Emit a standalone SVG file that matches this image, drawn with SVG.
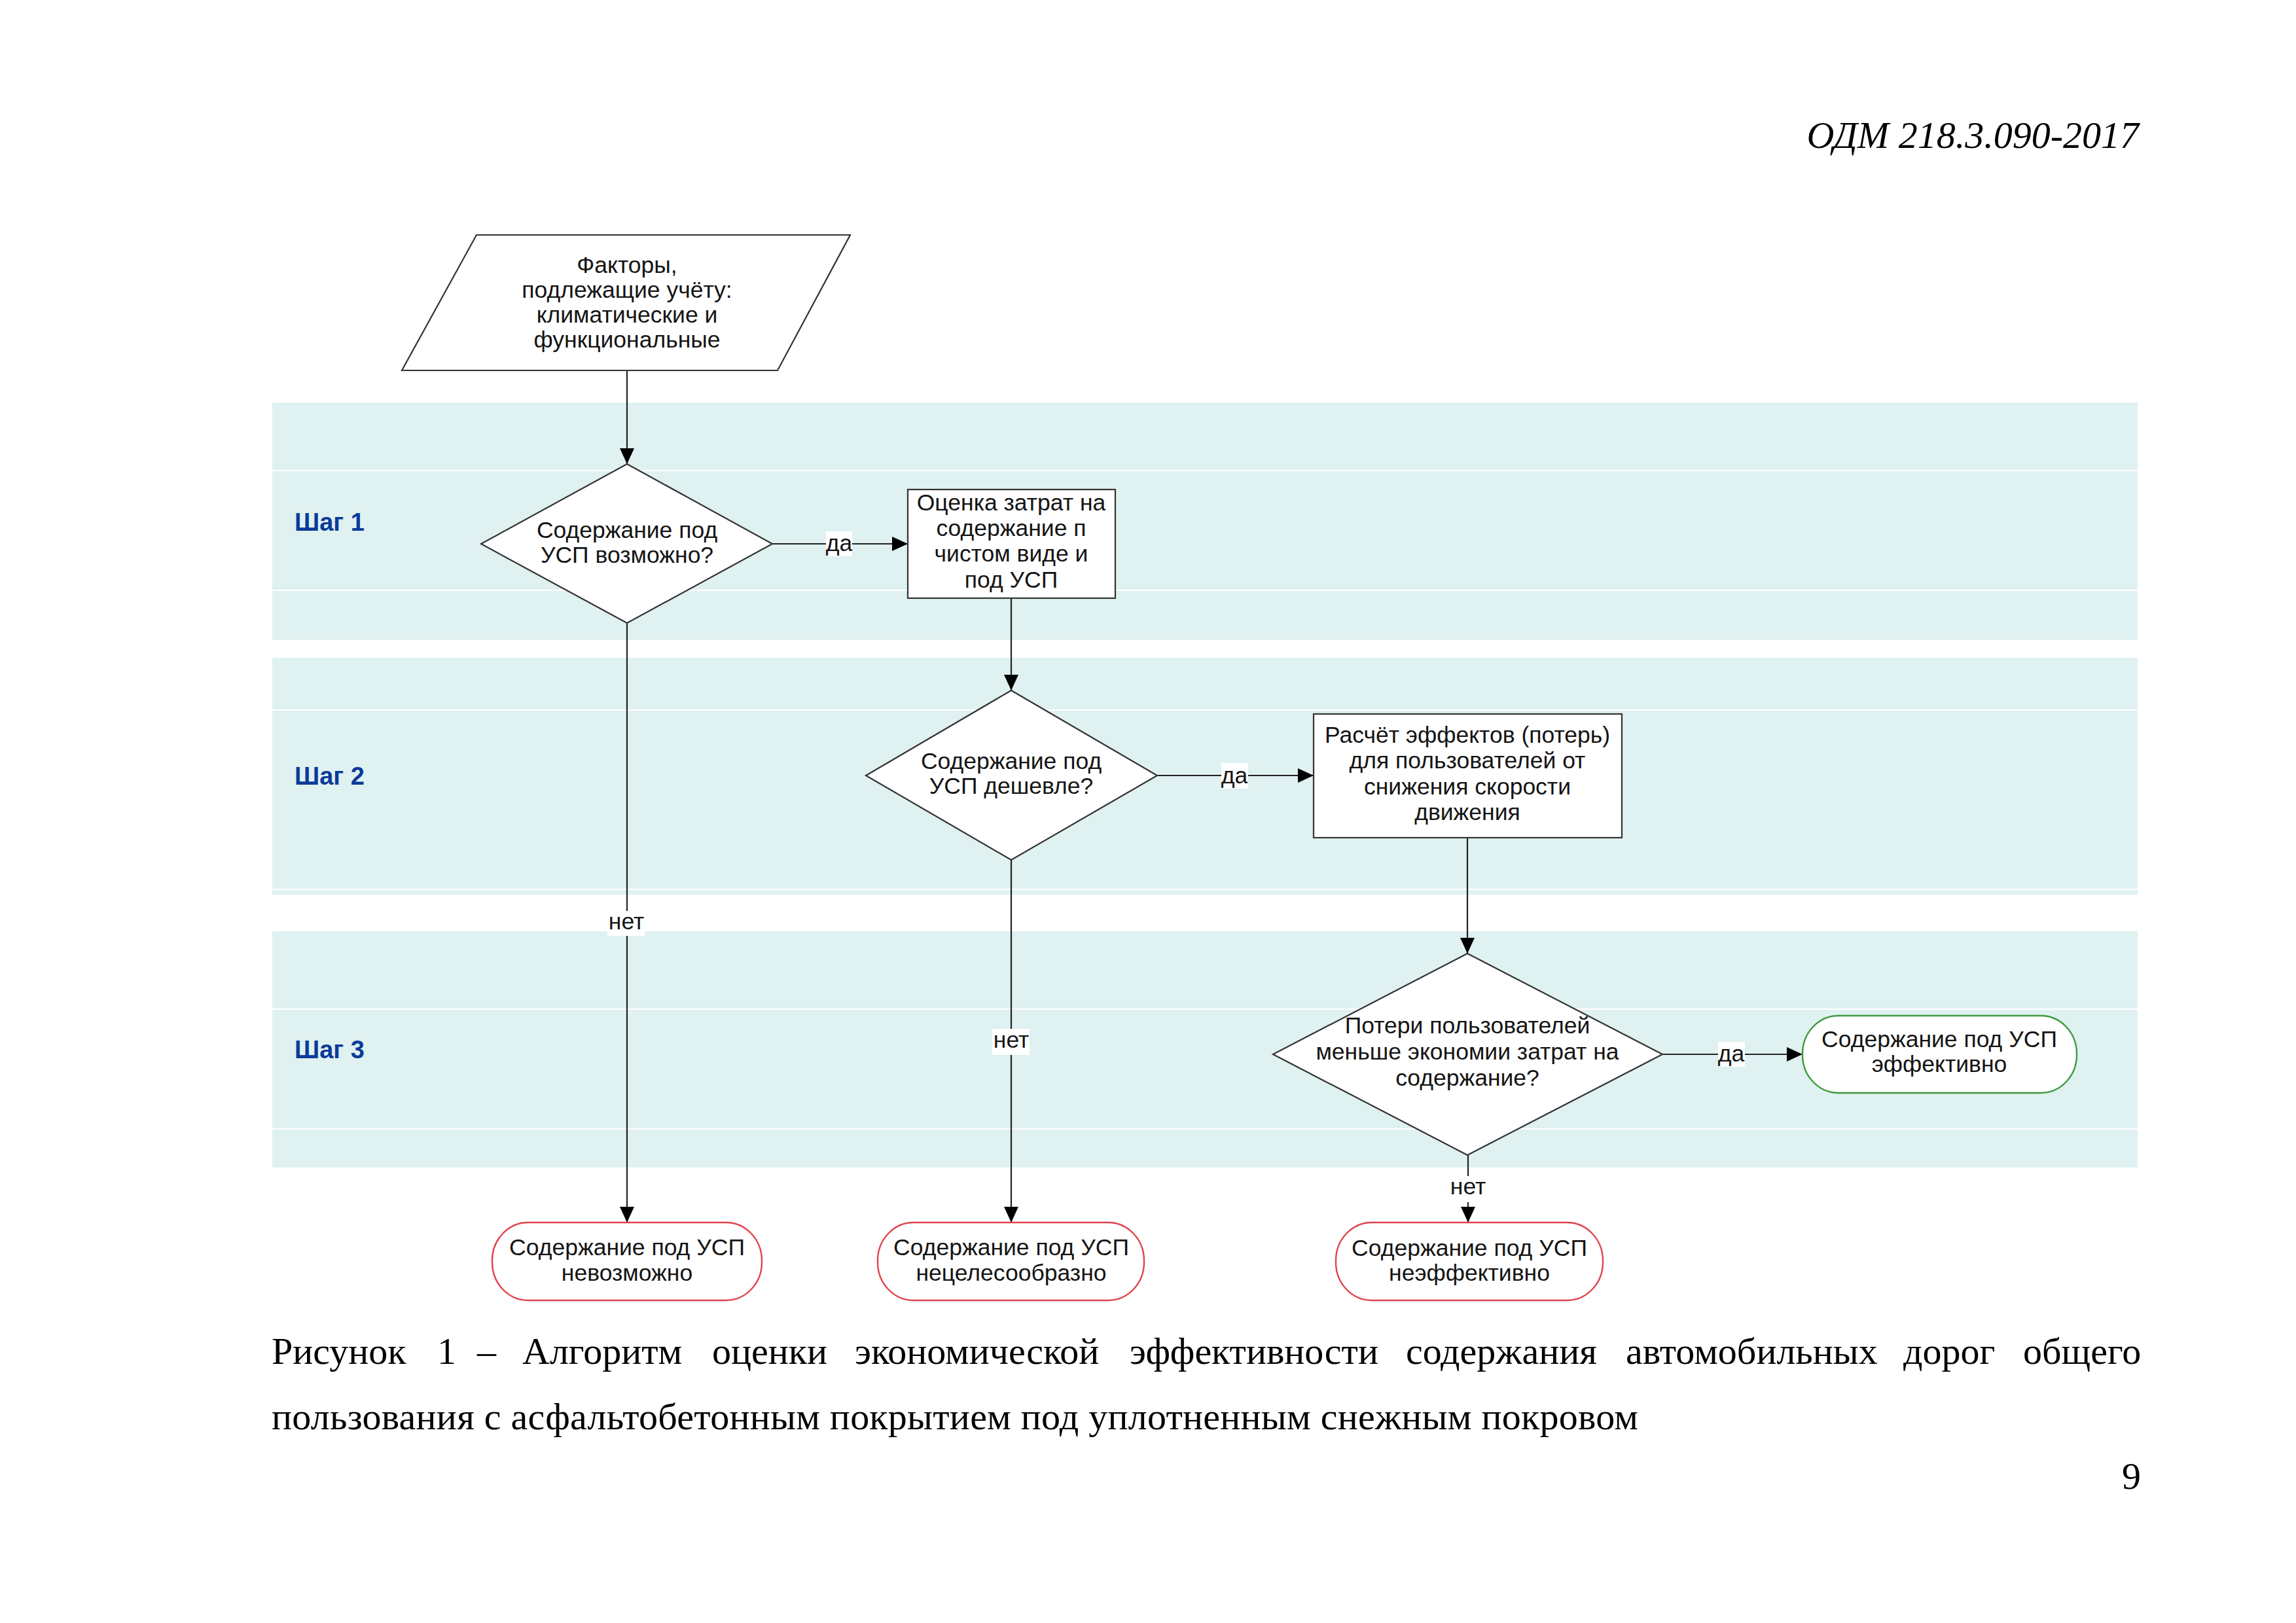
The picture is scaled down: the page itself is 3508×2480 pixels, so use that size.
<svg xmlns="http://www.w3.org/2000/svg" width="3508" height="2480" viewBox="0 0 3508 2480">
<defs>
<style>
.band{fill:#dff1f0;}
.bline{stroke:#ffffff;stroke-width:2;}
.shape{fill:#ffffff;stroke:#333333;stroke-width:2.2;}
.term-red{fill:#ffffff;stroke:#e0444c;stroke-width:2.4;}
.term-green{fill:#ffffff;stroke:#3e9a3e;stroke-width:2.4;}
.t{font-family:"Liberation Sans",Arial,sans-serif;font-size:35.5px;fill:#141414;text-anchor:middle;}
.step{font-family:"Liberation Sans",Arial,sans-serif;font-size:38px;font-weight:bold;fill:#0b3a9a;}
.conn{stroke:#222222;stroke-width:2.2;fill:none;marker-end:url(#arr);}
.lbg{fill:#ffffff;}
.doc{font-family:"Liberation Serif","Times New Roman",serif;font-size:58px;fill:#000000;}
</style>
<marker id="arr" viewBox="0 0 24 22" refX="24" refY="11" markerWidth="24" markerHeight="22" markerUnits="userSpaceOnUse" orient="auto">
<path d="M0,0 L24,11 L0,22 z" fill="#000000"/>
</marker>
</defs>
<rect width="3508" height="2480" fill="#ffffff"/>

<g id="header">
<text class="doc" x="3268" y="226" font-style="italic" text-anchor="end">ОДМ 218.3.090-2017</text>
</g>

<g id="lanes">
<rect class="band" x="416" y="615" width="2850" height="363"/>
<line class="bline" x1="416" y1="719" x2="3266" y2="719"/>
<line class="bline" x1="416" y1="902" x2="3266" y2="902"/>
<rect class="band" x="416" y="1005" width="2850" height="362"/>
<line class="bline" x1="416" y1="1085" x2="3266" y2="1085"/>
<line class="bline" x1="416" y1="1359" x2="3266" y2="1359"/>
<rect class="band" x="416" y="1423" width="2850" height="361"/>
<line class="bline" x1="416" y1="1542" x2="3266" y2="1542"/>
<line class="bline" x1="416" y1="1725" x2="3266" y2="1725"/>
<text class="step" x="450" y="811">Шаг 1</text>
<text class="step" x="450" y="1199">Шаг 2</text>
<text class="step" x="450" y="1617">Шаг 3</text>
</g>

<g id="connectors">
<line class="conn" x1="958" y1="566" x2="958" y2="709"/>
<line class="conn" x1="1180" y1="831" x2="1387" y2="831"/>
<line class="conn" x1="1545" y1="914" x2="1545" y2="1055"/>
<line class="conn" x1="1768" y1="1185" x2="2007" y2="1185"/>
<line class="conn" x1="2242" y1="1280" x2="2242" y2="1457"/>
<line class="conn" x1="2540" y1="1611" x2="2754" y2="1611"/>
<line class="conn" x1="958" y1="952" x2="958" y2="1868"/>
<line class="conn" x1="1545" y1="1314" x2="1545" y2="1868"/>
<line class="conn" x1="2243" y1="1765" x2="2243" y2="1868"/>
<rect class="lbg" x="1262" y="812" width="40" height="38"/>
<text class="t" x="1282" y="842">да</text>
<rect class="lbg" x="1866" y="1166" width="41" height="39"/>
<text class="t" x="1886" y="1197">да</text>
<rect class="lbg" x="2625" y="1592" width="41" height="38"/>
<text class="t" x="2645" y="1622">да</text>
<rect class="lbg" x="928" y="1392" width="57" height="38"/>
<text class="t" x="957" y="1420">нет</text>
<rect class="lbg" x="1516" y="1572" width="57" height="40"/>
<text class="t" x="1545" y="1601">нет</text>
<rect class="lbg" x="2217" y="1797" width="53" height="40"/>
<text class="t" x="2243" y="1825">нет</text>
</g>

<g id="factors">
<polygon class="shape" points="728,359 1299,359 1188,566 614,566"/>
<text class="t" x="958" y="417">Факторы,</text>
<text class="t" x="958" y="455">подлежащие учёту:</text>
<text class="t" x="958" y="493">климатические и</text>
<text class="t" x="958" y="531">функциональные</text>
</g>

<g id="decision1">
<polygon class="shape" points="958,709 1180,831 958,952 735,831"/>
<text class="t" x="958" y="822">Содержание под</text>
<text class="t" x="958" y="860">УСП возможно?</text>
</g>

<g id="costs">
<rect class="shape" x="1387" y="748" width="317" height="166"/>
<text class="t" x="1545" y="780">Оценка затрат на</text>
<text class="t" x="1545" y="819">содержание п</text>
<text class="t" x="1545" y="858">чистом виде и</text>
<text class="t" x="1545" y="898">под УСП</text>
</g>

<g id="decision2">
<polygon class="shape" points="1545,1055 1768,1185 1545,1314 1323,1185"/>
<text class="t" x="1545" y="1175">Содержание под</text>
<text class="t" x="1545" y="1213">УСП дешевле?</text>
</g>

<g id="effects">
<rect class="shape" x="2007" y="1091" width="471" height="189"/>
<text class="t" x="2242" y="1135">Расчёт эффектов (потерь)</text>
<text class="t" x="2242" y="1174">для пользователей от</text>
<text class="t" x="2242" y="1214">снижения скорости</text>
<text class="t" x="2242" y="1253">движения</text>
</g>

<g id="decision3">
<polygon class="shape" points="2242,1457 2540,1611 2242,1765 1945,1611"/>
<text class="t" x="2242" y="1579">Потери пользователей</text>
<text class="t" x="2242" y="1619">меньше экономии затрат на</text>
<text class="t" x="2242" y="1659">содержание?</text>
</g>

<g id="effective">
<rect class="term-green" x="2754" y="1552" width="419" height="118" rx="55" ry="58"/>
<text class="t" x="2963" y="1600">Содержание под УСП</text>
<text class="t" x="2963" y="1638">эффективно</text>
</g>

<g id="impossible">
<rect class="term-red" x="752" y="1868" width="412" height="119" rx="55" ry="58"/>
<text class="t" x="958" y="1918">Содержание под УСП</text>
<text class="t" x="958" y="1957">невозможно</text>
</g>

<g id="inexpedient">
<rect class="term-red" x="1341" y="1868" width="407" height="119" rx="55" ry="58"/>
<text class="t" x="1545" y="1918">Содержание под УСП</text>
<text class="t" x="1545" y="1957">нецелесообразно</text>
</g>

<g id="ineffective">
<rect class="term-red" x="2041" y="1868" width="408" height="119" rx="55" ry="58"/>
<text class="t" x="2245" y="1919">Содержание под УСП</text>
<text class="t" x="2245" y="1957">неэффективно</text>
</g>

<g id="caption">
<text class="doc" y="2084"><tspan x="415">Рисунок</tspan><tspan x="668">1</tspan><tspan x="729">–</tspan><tspan x="798">Алгоритм</tspan><tspan x="1088">оценки</tspan><tspan x="1306">экономической</tspan><tspan x="1726">эффективности</tspan><tspan x="2148">содержания</tspan><tspan x="2484">автомобильных</tspan><tspan x="2908">дорог</tspan><tspan x="3091">общего</tspan></text>
<text class="doc" x="415" y="2184" textLength="2088" lengthAdjust="spacing">пользования с асфальтобетонным покрытием под уплотненным снежным покровом</text>
<text class="doc" x="3271" y="2275" text-anchor="end" font-size="54">9</text>
</g>
</svg>
